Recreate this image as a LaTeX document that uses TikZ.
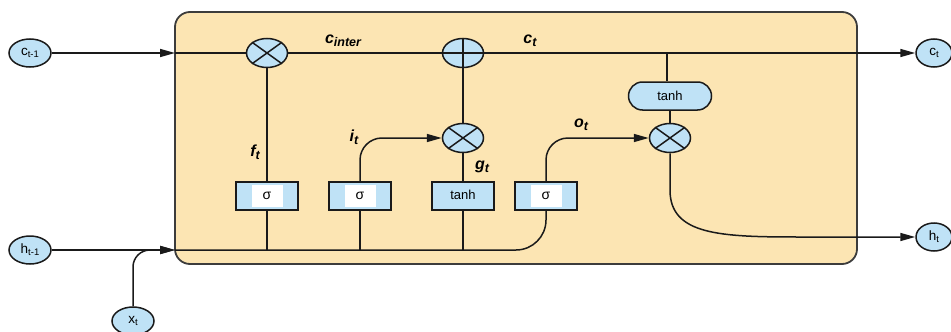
\documentclass[tikz,border=0pt]{standalone}
\usepackage{fontspec}
\setmainfont{Liberation Sans}
\usetikzlibrary{arrows.meta,shapes.geometric,shapes.misc}
\definecolor{cellbg}{HTML}{FCE5B3}
\definecolor{lblue}{HTML}{BFE2F6}
\definecolor{edgec}{HTML}{1A1A1A}
\newcommand\ellab[2]{#1\raisebox{-0.3ex}{\fontsize{9.5}{9.5}\selectfont #2}}
\newcommand\gatelab[2]{#1\raisebox{-0.35ex}{\fontsize{12.5}{12.5}\selectfont #2}}
\begin{document}
\begin{tikzpicture}[x=1pt,y=-1pt,
  io/.style={ellipse,draw=edgec,line width=1.5pt,fill=lblue,minimum width=42pt,minimum height=28pt,inner sep=0pt,font=\fontsize{13.5}{13.5}\selectfont},
  iosmall/.style={io,minimum width=36pt},
  op/.style={ellipse,draw=edgec,line width=1.5pt,fill=lblue,minimum width=41pt,minimum height=29pt,inner sep=0pt},
  gatebox/.style={rectangle,draw=edgec,line width=1.5pt,fill=lblue,minimum width=62pt,minimum height=28pt,inner sep=0pt},
  whitebox/.style={rectangle,fill=white,minimum width=31pt,minimum height=22pt,inner sep=0pt,font=\fontsize{14}{14}\selectfont},
  roundbox/.style={rounded rectangle,draw=edgec,line width=1.5pt,fill=lblue,minimum width=83pt,minimum height=28pt,inner sep=0pt,font=\fontsize{13}{13}\selectfont},
  conn/.style={draw=edgec,line width=1.5pt},
  arr/.style={conn,-{Triangle[length=15pt,width=8pt]}},
  lab/.style={font=\fontsize{16}{16}\selectfont\bfseries\itshape,inner sep=0pt}
]
\useasboundingbox (0,0) rectangle (951,332);
% cell background
\draw[fill=cellbg,draw=edgec!85,line width=1.8pt,rounded corners=15pt] (175,12) rectangle (857,264);

% inputs / outputs
\node[io] (cprev) at (30,53) {\ellab{c}{t-1}};
\node[io] (hprev) at (30,250) {\ellab{h}{t-1}};
\node[io] (xt) at (133,321) {\ellab{x}{t}};
\node[iosmall] (cnext) at (934,53) {\ellab{c}{t}};
\node[iosmall] (hnext) at (934,237) {\ellab{h}{t}};

% pointwise ops
\node[op] (m1) at (267,53) {};
\node[op] (pl) at (463,53) {};
\node[op] (m2) at (463,138) {};
\node[op] (m3) at (670,138) {};
\draw[conn] (m1.north east) -- (m1.south west) (m1.north west) -- (m1.south east);
\draw[conn] (m2.north east) -- (m2.south west) (m2.north west) -- (m2.south east);
\draw[conn] (m3.north east) -- (m3.south west) (m3.north west) -- (m3.south east);
\draw[conn] (pl.north) -- (pl.south) (pl.west) -- (pl.east);

% gates
\node[gatebox] (s1) at (267,196) {};
\node[whitebox] at (s1) {σ};
\node[gatebox] (s2) at (360,196) {};
\node[whitebox] at (s2) {σ};
\node[gatebox,font=\fontsize{13}{13}\selectfont] (gt) at (463,196) {\raisebox{3pt}{tanh}};
\node[gatebox] (s3) at (546,196) {};
\node[whitebox] at (s3) {σ};
\node[roundbox] (th) at (670,96) {tanh};

% coordinates
\coordinate (cin) at (175,53);
\coordinate (hin) at (175,250);
\coordinate (tj) at (667,53);
\coordinate (hbend) at (800,237);

% cell state line
\draw[arr] (cprev.east) -- (cin);
\draw[conn] (cin) -- (m1.west);
\draw[conn] (m1.east) -- (pl.west);
\draw[arr] (pl.east) -- (cnext.west);
\draw[conn] (tj) -- (tj |- th.north);
\draw[conn] (th.south) -- (m3.north);

% vertical links
\draw[conn] (m1.south) -- (s1.north);
\draw[conn] (pl.south) -- (m2.north);
\draw[conn] (m2.south) -- (gt.north);
\draw[arr,rounded corners=22pt] (s2.north) |- (m2.west);
\draw[arr,rounded corners=22pt] (s3.north) |- (m3.west);

% input bus
\draw[arr] (hprev.east) -- (hin);
\draw[arr,rounded corners=17pt] (xt.north) |- (hin);
\draw[conn,rounded corners=30pt] (hin) -| (s3.south);
\draw[conn] (s1.south) -- (s1.south |- hin);
\draw[conn] (s2.south) -- (s2.south |- hin);
\draw[conn] (gt.south) -- (gt.south |- hin);

% output
\draw[arr] (m3.south) -- (670,190) .. controls (670,235) and (720,237) .. (hbend) -- (hnext.west);

% labels
\node[lab] at (343,41) {\gatelab{c}{inter}};
\node[lab] at (530,41) {\gatelab{c}{t}};
\node[lab] at (255,152) {\gatelab{f}{t}};
\node[lab] at (354,137) {\gatelab{i}{t}};
\node[lab] at (482,167) {\gatelab{g}{t}};
\node[lab] at (581,125) {\gatelab{o}{t}};
\end{tikzpicture}
\end{document}
